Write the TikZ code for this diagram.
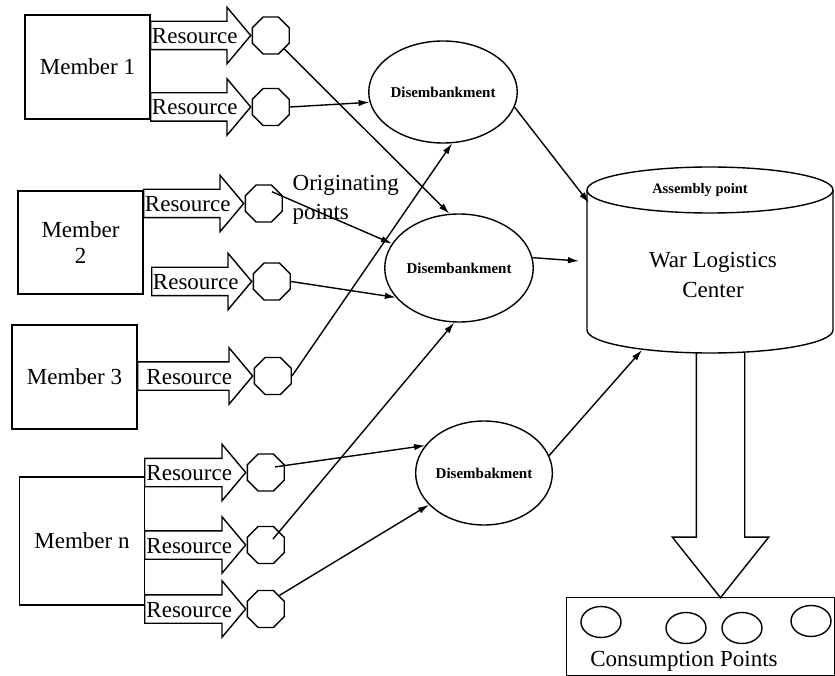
\documentclass[tikz,border=0pt]{standalone}
\usepackage{fontspec}
\setmainfont{Liberation Serif}
\usetikzlibrary{shapes.geometric,shapes.arrows,arrows.meta}

\tikzset{
  member/.style={draw, minimum width=125pt, minimum height=104pt, inner sep=0pt,
    align=center, font=\fontsize{23}{26}\selectfont},
  resource/.style={single arrow, draw, fill=white, anchor=tail, minimum height=100pt,
    single arrow head extend=14pt, single arrow tip angle=100, inner xsep=0pt,
    inner ysep=4.5pt, text height=17pt, text depth=1pt, font=\fontsize{23}{26}\selectfont},
  origin/.style={regular polygon, regular polygon sides=8, draw, minimum size=40pt,
    inner sep=0pt, anchor=west},
  disemb/.style={ellipse, draw, minimum width=118pt, minimum height=104pt, inner sep=0pt,
    font=\bfseries\fontsize{15}{17}\selectfont},
  link/.style={-{Latex[length=11pt,width=6.5pt]}},
  cpoint/.style={ellipse, draw, minimum width=40pt, minimum height=31pt},
}

\begin{document}
\begin{tikzpicture}[x=1pt, y=1pt, line width=1.4pt]
    \useasboundingbox (0,0) rectangle (835,-676);

    % Members
    \node[member] (m1) at (87.5,-67) {Member 1};
    \node[member, minimum height=103pt] (m2) at (80.5,-242.5) {Member\\2};
    \node[member] (m3) at (74.5,-377) {Member 3};
    \node[member, minimum height=128pt] (mn) at (82,-541) {Member n};

    % Resource arrows
    \node[resource] (r11) at (150,-35.5) {Resource};
    \node[resource] (r12) at (150,-107) {Resource};
    \node[resource] (r21) at (143,-203.5) {Resource};
    \node[resource] (r22) at (151,-281.5) {Resource};
    \node[resource, minimum height=115pt] (r3) at (137,-376) {Resource};
    \foreach \i/\y in {1/-472.5, 2/-545, 3/-609}
        \node[resource, minimum height=101pt] (rn\i) at (144,\y) {Resource};

    % Originating points
    \foreach \n in {11,12,21,22,3,n1,n2,n3}
        \node[origin] (o\n) at (r\n.tip) {};
    \node[anchor=west, align=left, inner sep=0pt, font=\fontsize{23}{29}\selectfont]
        (orig) at (292,-200) {Originating\\points};

    % Disembankment
    \node[disemb, minimum height=102pt] (d1) at (443,-92) {Disembankment};
    \node[disemb, minimum width=116pt, minimum height=108pt] (d2) at (459,-268) {Disembankment};
    \node[disemb] (d3) at (484,-473) {Disembakment};

    % Flow to consumption
    \node[single arrow, draw, fill=white, shape border rotate=270, anchor=tail,
        minimum height=252pt, inner sep=23.5pt, single arrow head extend=24pt,
        single arrow tip angle=77] (supply) at (720.5,-345) {};

    % War logistics center
    \draw[fill=white] (587,-190) -- (587,-330)
        arc[start angle=180, end angle=360, x radius=123, y radius=23] -- (833,-190);
    \draw[fill=white] (710,-190) ellipse [x radius=123, y radius=23];
    \node[font=\bfseries\fontsize{14.5}{16}\selectfont] (asm) at (700,-190) {Assembly point};
    \node[align=center, font=\fontsize{23}{30}\selectfont] (wlc) at (713,-275) {War Logistics\\Center};
    \coordinate (wlc1) at (589,-203);
    \coordinate (wlc2) at (579,-261);
    \coordinate (wlc3) at (642,-350);

    % Consumption points
    \node[draw, minimum width=268pt, minimum height=78pt, anchor=north west] (cons) at (566,-597) {};
    \foreach \i/\x/\y in {1/601/-622, 2/686/-628, 3/742/-628, 4/811/-621}
        \node[cpoint] (c\i) at (\x,\y) {};
    \node[font=\fontsize{23}{26}\selectfont] (ctext) at (684,-661) {Consumption Points};

    % Links
    \draw[link] (o11.-45) -- (d2.100);
    \draw[link] (o12.east) -- (d1.188);
    \draw[link, shorten <=-12pt] (o21.20) -- (d2.160);
    \draw[link] (o22.east) -- (d2.205);
    \draw[link] (o3.east) -- (d1.-80);
    \draw[link, shorten <=-10pt] (on1.20) -- (d3.155);
    \draw[link, shorten <=-10pt] (on2.45) -- (d2.-95);
    \draw[link] (on3.45) -- (d3.210);
    \draw[link] (d1.-12) -- (wlc1);
    \draw[link] (d2.8) -- (wlc2);
    \draw[link] (d3.15) -- (wlc3);
\end{tikzpicture}
\end{document}
